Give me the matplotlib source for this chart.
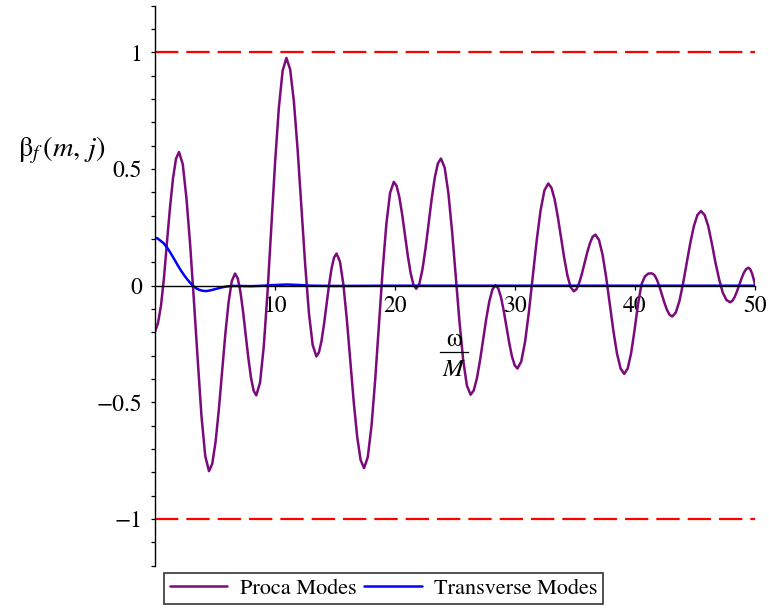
import matplotlib
matplotlib.use("Agg")
import matplotlib.pyplot as plt
from matplotlib.ticker import MultipleLocator, FixedLocator, FixedFormatter
from matplotlib.lines import Line2D

# ---------------- data ----------------
proca_x = [0, 0.25, 0.5, 0.75, 1.0, 1.25, 1.5, 1.75, 2.0,
           2.3125, 2.625, 2.9375, 3.25, 3.5625, 3.875, 4.1875, 4.5,
           4.771, 5.043, 5.314, 5.585, 5.856, 6.128, 6.399, 6.67,
           6.891, 7.113, 7.334, 7.555, 7.776, 7.998, 8.219, 8.44,
           8.754, 9.068, 9.381, 9.695, 10.009, 10.323, 10.636, 10.95,
           11.263, 11.575, 11.888, 12.2, 12.513, 12.825, 13.138, 13.45,
           13.66, 13.87, 14.08, 14.29, 14.50, 14.71, 14.92, 15.13,
           15.416, 15.703, 15.989, 16.275, 16.561, 16.848, 17.134, 17.42,
           17.73, 18.04, 18.35, 18.66, 18.97, 19.28, 19.59, 19.9,
           20.134, 20.368, 20.601, 20.835, 21.069, 21.303, 21.536, 21.77,
           22.028, 22.285, 22.543, 22.80, 23.058, 23.315, 23.573, 23.83,
           24.139, 24.448, 24.756, 25.065, 25.374, 25.683, 25.991, 26.3,
           26.56, 26.82, 27.08, 27.34, 27.60, 27.86, 28.12, 28.38,
           28.608, 28.835, 29.063, 29.29, 29.518, 29.745, 29.973, 30.2,
           30.521, 30.843, 31.164, 31.485, 31.806, 32.128, 32.449, 32.77,
           33.036, 33.303, 33.569, 33.835, 34.101, 34.368, 34.634, 34.9,
           35.125, 35.35, 35.575, 35.80, 36.025, 36.25, 36.475, 36.7,
           37.0, 37.3, 37.6, 37.9, 38.2, 38.5, 38.8, 39.1,
           39.388, 39.675, 39.963, 40.25, 40.538, 40.825, 41.113, 41.4,
           41.613, 41.825, 42.038, 42.25, 42.463, 42.675, 42.888, 43.1,
           43.4, 43.7, 44.0, 44.3, 44.6, 44.9, 45.2, 45.5,
           45.803, 46.105, 46.408, 46.71, 47.013, 47.315, 47.618, 47.92,
           48.111, 48.303, 48.494, 48.685, 48.876, 49.068, 49.259, 49.45,
           49.6, 49.75, 49.9, 50.0]
proca_y = [-0.197, -0.16, -0.085, 0.035, 0.188, 0.335, 0.460, 0.544, 0.573,
           0.521, 0.373, 0.17, -0.07, -0.32, -0.56, -0.73, -0.795,
           -0.763, -0.671, -0.534, -0.372, -0.210, -0.072, 0.020, 0.052,
           0.032, -0.024, -0.109, -0.209, -0.309, -0.394, -0.450, -0.470,
           -0.415, -0.258, -0.024, 0.253, 0.530, 0.764, 0.921, 0.976,
           0.927, 0.789, 0.581, 0.337, 0.092, -0.116, -0.254, -0.303,
           -0.286, -0.238, -0.167, -0.083, 0.002, 0.073, 0.121, 0.138,
           0.103, 0.003, -0.146, -0.322, -0.498, -0.647, -0.747, -0.782,
           -0.735, -0.602, -0.403, -0.169, 0.066, 0.265, 0.398, 0.445,
           0.428, 0.378, 0.304, 0.216, 0.128, 0.054, 0.004, -0.013,
           0.008, 0.069, 0.159, 0.266, 0.373, 0.463, 0.524, 0.545,
           0.506, 0.397, 0.233, 0.039, -0.155, -0.319, -0.428, -0.467,
           -0.449, -0.398, -0.322, -0.233, -0.143, -0.067, -0.016, 0.002,
           -0.012, -0.050, -0.108, -0.177, -0.245, -0.303, -0.341, -0.355,
           -0.325, -0.239, -0.110, 0.042, 0.193, 0.322, 0.408, 0.438,
           0.420, 0.370, 0.295, 0.207, 0.119, 0.044, -0.006, -0.024,
           -0.015, 0.012, 0.051, 0.098, 0.144, 0.183, 0.210, 0.219,
           0.196, 0.132, 0.035, -0.080, -0.194, -0.291, -0.355, -0.378,
           -0.355, -0.29, -0.19, -0.08, 0.005, 0.040, 0.052, 0.053,
           0.046, 0.026, -0.004, -0.040, -0.075, -0.105, -0.125, -0.132,
           -0.115, -0.066, 0.008, 0.094, 0.181, 0.254, 0.303, 0.320,
           0.303, 0.255, 0.18, 0.098, 0.027, -0.03, -0.061, -0.071,
           -0.065, -0.049, -0.025, 0.003, 0.031, 0.055, 0.071, 0.077,
           0.071, 0.053, 0.026, 0.005]

trans_x = [0, 0.2, 0.4, 0.7, 1.0, 1.3, 1.6, 1.9, 2.2, 2.5, 2.8, 3.1, 3.4, 3.7,
           4.0, 4.3, 4.6, 5.0, 5.5, 6.0, 6.5, 7.0, 8.0, 9.0, 10.0, 11.0, 12.0,
           13.0, 15.0, 20.0, 30.0, 40.0, 50.0]
trans_y = [0.205, 0.203, 0.195, 0.183, 0.164, 0.140, 0.114, 0.087, 0.062, 0.040,
           0.020, 0.003, -0.010, -0.018, -0.022, -0.023, -0.020, -0.015, -0.008,
           -0.003, -0.001, -0.001, -0.002, 0.000, 0.003, 0.005, 0.003, 0.000,
           -0.001, 0.0, 0.0, 0.0, 0.0]

bound_levels = [1.0, -1.0]
x_ticks = [10, 20, 30, 40, 50]
x_tick_labels = ["10", "20", "30", "40", "50"]
y_ticks = [-1.0, -0.5, 0.0, 0.5, 1.0]
y_tick_labels = ["\u22121", "\u22120.5", "0", "0.5", "1"]
series_names = ["Proca Modes", "Transverse Modes"]

# ---------------- figure ----------------
plt.rcParams["mathtext.fontset"] = "stix"
SERIF = ["STIXGeneral", "Liberation Serif", "DejaVu Serif"]

W, H = 769, 608
fig = plt.figure(figsize=(W / 100, H / 100), dpi=100)
left_px, right_px = 155, 755
top_px, bot_px = 5.7, 565.7
ax = fig.add_axes([left_px / W, 1 - bot_px / H,
                   (right_px - left_px) / W, (bot_px - top_px) / H])
ax.set_xlim(0, 50)
ax.set_ylim(-1.2, 1.2)

purple = "#7b0a7b"
blue = "#0000ff"
red = "#ff0000"

for lvl in bound_levels:
    ax.plot([0, 50], [lvl, lvl], color=red, lw=1.6,
            linestyle=(0, (10.5, 3.6)), solid_capstyle="butt",
            dash_capstyle="butt")
ax.plot(proca_x, proca_y, color=purple, lw=1.8, label=series_names[0],
        solid_joinstyle="round", solid_capstyle="round")
ax.plot(trans_x, trans_y, color=blue, lw=1.8, label=series_names[1],
        solid_joinstyle="round", solid_capstyle="round")

# axes through the origin
for s in ["top", "right"]:
    ax.spines[s].set_visible(False)
ax.spines["left"].set_position(("data", 0))
ax.spines["bottom"].set_position(("data", 0))
ax.spines["left"].set_linewidth(1.0)
ax.spines["bottom"].set_linewidth(1.0)
ax.spines["left"].set_zorder(3)
ax.spines["bottom"].set_zorder(3)

ax.xaxis.set_major_locator(FixedLocator(x_ticks))
ax.xaxis.set_major_formatter(FixedFormatter(x_tick_labels))
ax.yaxis.set_major_locator(FixedLocator(y_ticks))
ax.yaxis.set_major_formatter(FixedFormatter(y_tick_labels))
ax.yaxis.set_minor_locator(MultipleLocator(0.1))
ax.tick_params(axis="both", which="both", direction="out", length=3.2,
               width=0.9, color="black")
ax.tick_params(axis="x", pad=4, labelsize=17)
ax.tick_params(axis="y", pad=6, labelsize=17)
for lab in ax.get_xticklabels() + ax.get_yticklabels():
    lab.set_family(SERIF)

# y label  beta_f(m, j)
fig.text(18 / W, 1 - 150 / H, r"$\mathrm{\beta}_{f}\,(m,\,j)$", fontsize=20.5,
         ha="left", va="center")

# x label  omega / M as a stacked fraction
fx = 454 / W
fig.text(fx, 1 - 340 / H, "\u03c9", family=SERIF, fontsize=18,
         ha="center", va="center")
fig.add_artist(Line2D([440 / W, 468 / W], [1 - 352 / H, 1 - 352 / H],
                      color="black", lw=0.9, transform=fig.transFigure))
fig.text(fx, 1 - 369 / H, r"$M$", fontsize=18, ha="center", va="center")

leg = fig.legend(loc="center", bbox_to_anchor=(383.5 / W, 1 - 588.5 / H),
                 ncol=2, frameon=True, fancybox=False, shadow=False,
                 prop={"family": SERIF, "size": 16}, handlelength=2.6,
                 handletextpad=0.55, columnspacing=0.35, borderpad=0.25,
                 borderaxespad=0)
leg.get_frame().set_edgecolor("black")
leg.get_frame().set_linewidth(1.2)

fig.savefig("out.png", dpi=100)
